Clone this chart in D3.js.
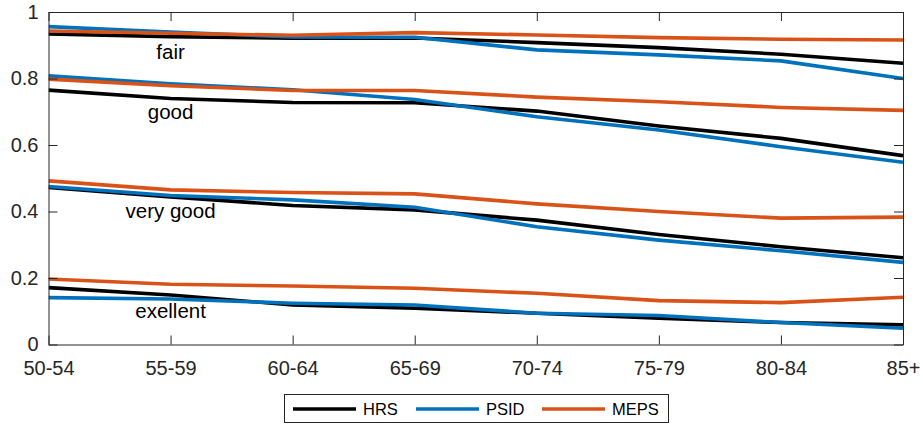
<!DOCTYPE html>
<html>
<head>
<meta charset="utf-8">
<script src="https://cdn.jsdelivr.net/npm/d3@7"></script>
<style>
  html, body { margin: 0; padding: 0; background: #fff; }
  svg { display: block; font-family: "Liberation Sans", Arial, Helvetica, sans-serif; }
</style>
</head>
<body>
<svg id="chart" width="923" height="427"></svg>
<script>
const categories = ["50-54", "55-59", "60-64", "65-69", "70-74", "75-79", "80-84", "85+"];
const yTicks = [0, 0.2, 0.4, 0.6, 0.8, 1];
const seriesNames = ["HRS", "PSID", "MEPS"];
const seriesColors = ["#000000", "#0072BD", "#D95319"];

// cumulative shares: fair (top), good, very good, excellent (bottom)
const hrsFair      = [0.934, 0.926, 0.921, 0.922, 0.908, 0.893, 0.873, 0.846];
const psidFair     = [0.956, 0.940, 0.925, 0.924, 0.886, 0.871, 0.853, 0.800];
const mepsFair     = [0.943, 0.936, 0.930, 0.938, 0.931, 0.923, 0.918, 0.916];

const hrsGood      = [0.765, 0.740, 0.728, 0.727, 0.702, 0.657, 0.620, 0.568];
const psidGood     = [0.808, 0.784, 0.766, 0.737, 0.685, 0.645, 0.595, 0.548];
const mepsGood     = [0.798, 0.778, 0.764, 0.764, 0.744, 0.730, 0.713, 0.704];

const hrsVeryGood  = [0.472, 0.444, 0.418, 0.405, 0.374, 0.331, 0.294, 0.261];
const psidVeryGood = [0.475, 0.448, 0.435, 0.413, 0.354, 0.314, 0.282, 0.247];
const mepsVeryGood = [0.492, 0.465, 0.457, 0.453, 0.423, 0.400, 0.380, 0.383];

const hrsExcellent  = [0.171, 0.149, 0.119, 0.109, 0.094, 0.079, 0.066, 0.059];
const psidExcellent = [0.141, 0.137, 0.124, 0.119, 0.094, 0.087, 0.066, 0.049];
const mepsExcellent = [0.197, 0.181, 0.176, 0.169, 0.154, 0.132, 0.126, 0.142];

const groupLabels = ["fair", "good", "very good", "exellent"];
const groupLabelValues = [0.859, 0.678, 0.38, 0.081];

const lines = [
  { name: "HRS", values: hrsExcellent }, { name: "PSID", values: psidExcellent }, { name: "MEPS", values: mepsExcellent },
  { name: "HRS", values: hrsVeryGood }, { name: "PSID", values: psidVeryGood }, { name: "MEPS", values: mepsVeryGood },
  { name: "HRS", values: hrsGood }, { name: "PSID", values: psidGood }, { name: "MEPS", values: mepsGood },
  { name: "HRS", values: hrsFair }, { name: "PSID", values: psidFair }, { name: "MEPS", values: mepsFair }
];

const svg = d3.select("#chart");
const L = 48.5, R = 903, T = 12, B = 344.5;
const axisColor = "#262626";

const x = d3.scalePoint().domain(categories).range([L, R]);
const y = d3.scaleLinear().domain([0, 1]).range([B, T]);
const color = d3.scaleOrdinal().domain(seriesNames).range(seriesColors);

svg.append("defs").append("clipPath").attr("id", "clip")
  .append("rect").attr("x", L).attr("y", T).attr("width", R - L).attr("height", B - T);

const lineGen = d3.line().x((d, i) => x(categories[i])).y(d => y(d));

svg.append("g").attr("clip-path", "url(#clip)")
  .selectAll("path").data(lines).join("path")
  .attr("d", d => lineGen(d.values))
  .attr("fill", "none")
  .attr("stroke", d => color(d.name))
  .attr("stroke-width", 3.6)
  .attr("stroke-linejoin", "round");

// group labels
svg.append("g").selectAll("text").data(groupLabels).join("text")
  .attr("x", x(categories[1]))
  .attr("y", (d, i) => y(groupLabelValues[i]))
  .attr("text-anchor", "middle")
  .attr("font-size", 20.5)
  .attr("fill", "#000")
  .text(d => d);

function styleAxis(g) {
  g.selectAll(".domain").attr("stroke", axisColor).attr("stroke-width", 1);
  g.selectAll(".tick line").attr("stroke", axisColor).attr("stroke-width", 1);
  g.selectAll(".tick text").attr("fill", axisColor).attr("font-size", 20)
    .attr("font-family", "\"Liberation Sans\", Arial, Helvetica, sans-serif");
}

// bottom axis
svg.append("g").attr("transform", `translate(0,${B})`)
  .call(d3.axisBottom(x).tickSizeInner(-9).tickSizeOuter(0).tickPadding(16))
  .call(styleAxis);
// top axis
svg.append("g").attr("transform", `translate(0,${T})`)
  .call(d3.axisTop(x).tickSizeInner(-9).tickSizeOuter(0).tickFormat(""))
  .call(styleAxis);
// left axis
svg.append("g").attr("transform", `translate(${L},0)`)
  .call(d3.axisLeft(y).tickValues(yTicks).tickSizeInner(-9).tickSizeOuter(0).tickPadding(10).tickFormat(d => String(d)))
  .call(styleAxis);
// right axis
svg.append("g").attr("transform", `translate(${R},0)`)
  .call(d3.axisRight(y).tickValues(yTicks).tickSizeInner(-9).tickSizeOuter(0).tickFormat(""))
  .call(styleAxis);

// legend
const legend = svg.append("g");
legend.append("rect").attr("x", 284.5).attr("y", 394.5).attr("width", 384).attr("height", 28)
  .attr("fill", "#fff").attr("stroke", axisColor).attr("stroke-width", 1);
const legendX = [293, 416, 542];
const items = legend.selectAll("g.item").data(seriesNames).join("g").attr("class", "item");
items.append("line")
  .attr("x1", (d, i) => legendX[i]).attr("x2", (d, i) => legendX[i] + 63)
  .attr("y1", 409).attr("y2", 409)
  .attr("stroke", d => color(d)).attr("stroke-width", 3.6);
items.append("text")
  .attr("x", (d, i) => legendX[i] + 70).attr("y", 415)
  .attr("font-size", 16.5).attr("fill", "#000")
  .text(d => d);
</script>
</body>
</html>
